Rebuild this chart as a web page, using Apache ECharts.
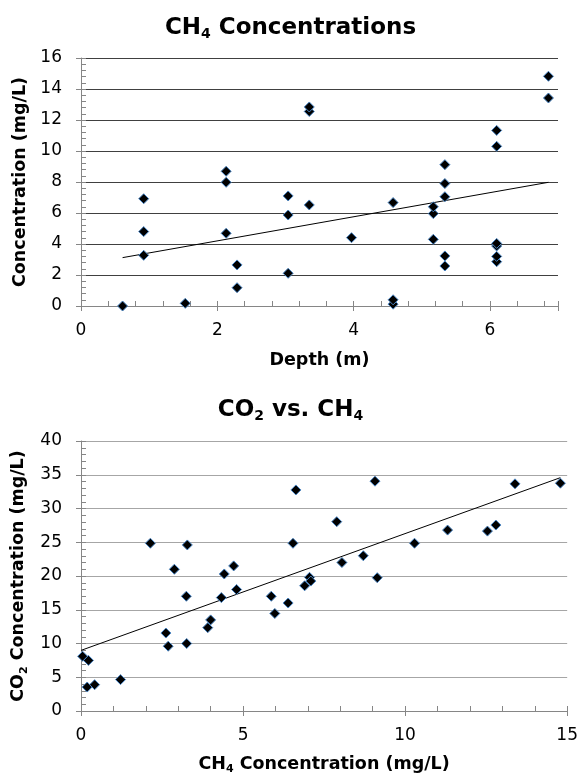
<!DOCTYPE html>
<html>
<head>
<meta charset="utf-8">
<script src="https://cdn.jsdelivr.net/npm/echarts@6/dist/echarts.min.js"></script>
<style>
  html, body { margin: 0; padding: 0; background: #fff; }
  #chart { width: 581px; height: 781px; }
</style>
</head>
<body>
<div id="chart"></div>
<script>
// top chart: CH4 vs depth
const depthM = [0.61, 0.92, 0.92, 0.92, 1.53, 2.13, 2.13, 2.13, 2.29, 2.29, 3.04, 3.04, 3.04, 3.35, 3.35, 3.35,
  3.97, 4.58, 4.58, 4.58, 5.17, 5.17, 5.17, 5.34, 5.34, 5.34, 5.34, 5.34, 6.10, 6.10, 6.10, 6.10, 6.10, 6.10, 6.86, 6.86];
const ch4ByDepth = [0.0, 3.27, 4.80, 6.92, 0.17, 4.69, 7.98, 8.69, 1.18, 2.65, 2.11, 5.87, 7.10, 6.52, 12.55, 12.84,
  4.41, 0.12, 0.40, 6.67, 4.30, 5.96, 6.40, 2.58, 3.23, 7.05, 7.90, 9.12, 2.86, 3.20, 3.87, 4.04, 10.30, 11.33, 13.42, 14.82];
// trendline ends as drawn in the original (depth, CH4)
const depthTrendX = [0.61, 6.86];
const depthTrendY = [3.12, 7.98];

// bottom chart: CO2 vs CH4
const ch4Conc = [0.05, 0.19, 0.23, 0.42, 1.22, 2.14, 2.62, 2.69, 2.88, 3.25, 3.26, 3.28, 3.91, 4.00, 4.33, 4.42, 4.71, 4.80,
  5.87, 5.98, 6.39, 6.54, 6.63, 6.90, 7.05, 7.09, 7.89, 8.05, 8.71, 9.07, 9.14, 10.29, 11.31, 12.54, 12.80, 13.39, 14.79];
const co2Conc = [8.1, 3.55, 7.5, 3.9, 4.65, 24.85, 11.55, 9.6, 21.0, 17.0, 10.0, 24.6, 12.35, 13.5, 16.8, 20.3, 21.5, 18.0,
  17.0, 14.45, 16.0, 24.85, 32.75, 18.55, 19.8, 19.25, 28.05, 22.0, 23.0, 34.05, 19.75, 24.85, 26.8, 26.65, 27.55, 33.65, 33.75];
const co2TrendX = [0.0, 14.79];
const co2TrendY = [8.98, 34.57];

const depthTicks = { min: 0, max: 7, interval: 2, minor: 0.4 };
const ch4Ticks = { min: 0, max: 16, interval: 2, minor: 0.4 };
const ch4XTicks = { min: 0, max: 15, interval: 5, minor: 1 };
const co2Ticks = { min: 0, max: 40, interval: 5, minor: 1 };

const pairs = (xs, ys) => xs.map((x, i) => [x, ys[i]]);

const font = 'DejaVu Sans, sans-serif';
const axisGray = '#868686';
const rich = {
  b: { color: '#000', fontFamily: font, fontWeight: 'bold', fontSize: 17.5, lineHeight: 22 },
  s: { color: '#000', fontFamily: font, fontWeight: 'bold', fontSize: 11, lineHeight: 10, verticalAlign: 'bottom' }
};
const titleRich = {
  b: { color: '#000', fontFamily: font, fontWeight: 'bold', fontSize: 23, lineHeight: 26 },
  s: { color: '#000', fontFamily: font, fontWeight: 'bold', fontSize: 14, lineHeight: 10, verticalAlign: 'bottom' }
};
const tickLabel = (margin, extra) => Object.assign({ color: '#000', fontFamily: font, fontSize: 17, margin: margin }, extra);

function mainAxis(grid, t, extra) {
  return Object.assign({
    type: 'value', gridIndex: grid, min: t.min, max: t.max, interval: t.interval,
    axisLine: { show: true, lineStyle: { color: axisGray, width: 1 } },
    axisTick: { show: true, length: 5, lineStyle: { color: axisGray } },
    splitLine: { show: false },
    nameLocation: 'middle',
    nameTextStyle: { color: '#000', rich: rich }
  }, extra);
}
function minorAxis(grid, t, pos) {
  return {
    type: 'value', gridIndex: grid, min: t.min, max: t.max, interval: t.minor, position: pos,
    axisLine: { show: false },
    axisTick: { show: true, inside: true, length: 5, lineStyle: { color: axisGray } },
    axisLabel: { show: false },
    splitLine: { show: false }
  };
}

const chart = echarts.init(document.getElementById('chart'));
chart.setOption({
  animation: false,
  backgroundColor: '#fff',
  title: [
    { text: '{b|CH}{s|4}{b| Concentrations}', left: 'center', top: 10, textStyle: { color: '#000', rich: titleRich } },
    { text: '{b|CO}{s|2}{b| vs. CH}{s|4}', left: 'center', top: 392, textStyle: { color: '#000', rich: titleRich } }
  ],
  grid: [
    { left: 81, right: 23, top: 58, bottom: 475 },
    { left: 81, right: 11, top: 441, bottom: 70 }
  ],
  xAxis: [
    mainAxis(0, depthTicks, {
      name: '{b|Depth (m)}', nameGap: 43,
      axisLabel: tickLabel(16, { formatter: (v) => (v % 2 === 0 ? String(v) : '') })
    }),
    minorAxis(0, depthTicks, 'bottom'),
    mainAxis(1, ch4XTicks, { name: '{b|CH}{s|4}{b| Concentration (mg/L)}', nameGap: 42, axisLabel: tickLabel(16) }),
    minorAxis(1, ch4XTicks, 'bottom')
  ],
  yAxis: [
    mainAxis(0, ch4Ticks, {
      name: '{b|Concentration (mg/L)}', nameGap: 46,
      axisLabel: tickLabel(19),
      splitLine: { show: true, lineStyle: { color: '#404040', width: 1 } }
    }),
    minorAxis(0, ch4Ticks, 'left'),
    mainAxis(1, co2Ticks, {
      name: '{b|CO}{s|2}{b| Concentration (mg/L)}', nameGap: 46,
      axisLabel: tickLabel(19),
      splitLine: { show: true, lineStyle: { color: '#a6a6a6', width: 1 } }
    }),
    minorAxis(1, co2Ticks, 'left')
  ],
  series: [
    {
      type: 'line', xAxisIndex: 0, yAxisIndex: 0, data: pairs(depthTrendX, depthTrendY),
      symbol: 'none', lineStyle: { color: '#000', width: 1 }, z: 3
    },
    {
      type: 'scatter', xAxisIndex: 0, yAxisIndex: 0, data: pairs(depthM, ch4ByDepth),
      symbol: 'diamond', symbolSize: 10,
      itemStyle: { color: '#000', borderColor: '#4a86c5', borderWidth: 1, opacity: 1 }, z: 4
    },
    {
      type: 'line', xAxisIndex: 2, yAxisIndex: 2, data: pairs(co2TrendX, co2TrendY),
      symbol: 'none', lineStyle: { color: '#000', width: 1 }, z: 3
    },
    {
      type: 'scatter', xAxisIndex: 2, yAxisIndex: 2, data: pairs(ch4Conc, co2Conc),
      symbol: 'diamond', symbolSize: 10,
      itemStyle: { color: '#000', borderColor: '#4a86c5', borderWidth: 1, opacity: 1 }, z: 4
    }
  ]
});
window.addEventListener('resize', () => chart.resize());
</script>
</body>
</html>
